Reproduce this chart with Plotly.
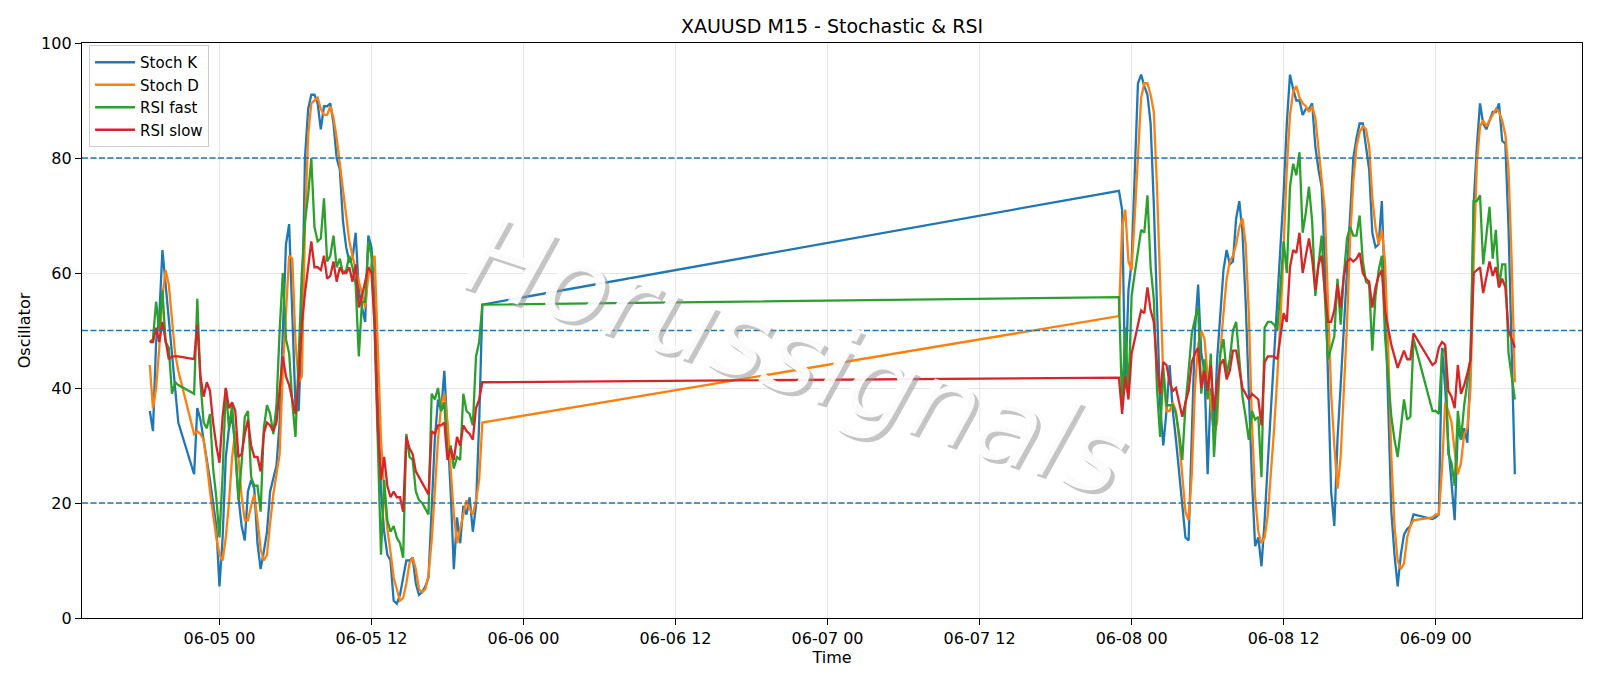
import pandas as pd
import plotly.graph_objects as go

# ---- time blocks of 15-minute bars (start, number of bars) ----
block_starts = ["2026-06-04 18:30", "2026-06-04 22:00", "2026-06-07 23:00", "2026-06-08 23:45"]
block_sizes = [10, 92, 94, 27]
x_range = ["2026-06-04 13:09", "2026-06-09 11:33"]

# ---- Stoch K ----
stoch_k_b1 = [36, 32.5, 48, 52.5, 64, 58, 53, 47, 40, 34]
stoch_k_b2 = [25, 36.5, 34.5, 31, 28, 24, 20, 16, 5.5, 14, 28, 33,
              35, 30, 21, 16, 13.5, 22, 24, 22.5, 13, 8.5, 11.5, 15, 22, 24.5, 26.5, 34, 50, 65, 68.5, 54, 37, 36, 50, 80, 88.5, 91,
              91, 89.5, 85, 89, 89, 89.5, 86, 80, 78, 69, 64.5, 62, 62.5, 67, 57, 54, 51.5, 66.5, 64.5, 55, 37, 22, 15, 11, 10, 3,
              2.5, 4, 7, 10, 10, 10.5, 6, 4, 4.5, 5.5, 7, 19, 31, 38, 36, 43, 33, 22, 8.5, 17.5, 13, 19.5, 18, 21, 15, 19.5, 34, 54.5]
stoch_k_b3 = [74.3, 71, 40, 57, 62, 78, 93, 94.5, 92.5, 91, 86, 72, 53, 37, 30, 36, 44,
              36, 31, 25, 20, 14, 13.5, 33.5, 50, 58, 46, 43, 25, 40, 32, 45, 52, 60.5, 64, 61.5, 62, 69.5, 72.5, 67, 55,
              38, 24, 12.5, 14, 9, 17, 27, 36, 45, 54, 63, 74, 86, 94.5, 92, 90, 90, 87.5, 88.5, 88.5, 89.5, 82, 78, 75, 62, 41,
              22, 16, 31, 40.5, 50, 59.5, 69, 80, 83.5, 86, 86, 82, 78, 67, 64.5, 65, 72.5, 56, 36, 18.5, 11, 5.5, 11, 14.5, 15.5, 16, 18]
stoch_k_b4 = [17.2, 17.5, 18, 47, 40, 30, 24, 17, 33, 31, 33, 30.5, 44, 72, 82, 89.5, 86, 85, 86.5, 88, 88, 89.5, 83, 82.5, 68, 45, 25]

# ---- Stoch D ----
stoch_d_b1 = [44, 36.5, 40, 47, 56, 60.5, 58, 52, 46, 43]
stoch_d_b2 = [32, 32.5, 32, 31, 27, 22, 17.5, 14, 11, 10, 14, 20,
              28, 32.5, 28, 21, 17, 17, 19.5, 21.5, 17, 12, 10, 11, 16.5, 21.5, 25, 28.5, 43, 54, 63, 62.5, 48, 41, 42, 68, 84, 89.5,
              90, 90.5, 88.5, 87.5, 87.5, 89, 87, 83.5, 79, 74.5, 69.5, 65.5, 63, 60.5, 58.5, 56.5, 54, 59.5, 61.5, 63, 48, 31, 22, 15.5, 11.5, 7,
              5, 3, 3.5, 6, 9.5, 10.5, 8.5, 5, 4.5, 5, 7.5, 13.5, 22, 31, 37, 39, 34, 25, 18, 13, 15.5, 18, 20.5, 19, 18, 20.5, 24, 34]
stoch_d_b3 = [52.5, 68, 71, 62, 60.5, 70, 81, 90.5, 93, 93, 91, 88, 75, 57, 42, 36, 36,
              37.5, 36, 31, 25, 18.5, 17, 25, 40, 47.5, 50, 48.5, 42, 37, 32, 34, 46, 53, 59, 62, 63, 65, 68, 69.5, 65,
              53, 34, 21, 15, 13, 14, 18, 25, 33, 42, 52, 64.5, 78, 87.5, 91.5, 92.5, 90.5, 89.5, 89, 88, 89, 87, 82, 77, 71, 55,
              39, 30, 22.5, 28, 38.5, 51, 66, 76, 82, 84.5, 85.5, 85, 82, 73, 68, 65, 67.5, 62, 47, 28, 16, 10, 8.5, 9.5, 14, 16, 17]
stoch_d_b4 = [17.5, 18, 18, 26, 37.5, 36, 34, 29, 25, 27, 32, 33, 40, 62, 79, 85.5, 86.5, 85.5, 86.5, 87.5, 88.5, 88, 86.5, 84, 78, 62, 41]

# ---- RSI fast ----
rsi_fast_b1 = [48, 48.5, 55, 50, 57, 48, 47, 39, 41, 40.5]
rsi_fast_b2 = [39, 55.5, 41, 34, 33, 35.5, 26, 21, 14, 25, 40, 33,
               37, 29, 20.5, 27, 35, 36, 24.5, 23, 23, 18.5, 33, 37, 35.5, 32, 37, 50, 60, 48.5, 46, 37.5, 31.5, 45, 60, 69, 73.5, 80,
               68, 65.5, 66, 73, 62, 63, 66.5, 61, 62.5, 60, 60.5, 63, 61, 58, 45.5, 55, 55, 65.5, 63, 50, 31, 11, 24, 17, 15, 16,
               14, 13, 10.5, 32, 28, 27.5, 22, 20.5, 20, 19, 18, 39, 38, 40, 36, 37.5, 28, 30, 26, 28, 27.5, 39, 36, 35.5, 33.5, 45.5, 48, 54.5]
rsi_fast_b3 = [55.8, 37, 50.5, 39, 56, 60, 63.5, 67.5, 67, 73.5, 61, 55.5, 40, 31.5, 43.5, 37, 37,
               37, 35.5, 32, 27.5, 37, 43, 49.5, 52, 54, 39, 45, 38, 46, 28, 38, 46, 48.5, 42.5, 45, 50, 51.5, 45, 38.5, 35,
               31, 36, 34.5, 35, 24.5, 50.5, 51.5, 51.5, 51, 50, 58, 65.5, 60, 75, 79, 77, 81, 67, 70.5, 75, 69, 56, 61.5, 66.5, 56, 45,
               47, 49, 59, 51, 59.5, 66, 68, 66.5, 66.5, 70, 62, 58.5, 58, 46.5, 56, 60.5, 63, 49, 42, 35, 31, 28, 33, 38, 34.5, 35, 48.5]
rsi_fast_b4 = [36, 36, 35.5, 46, 47, 28.5, 27, 23, 36, 31, 37, 41, 45, 72.5, 72.5, 73.5, 61.5, 66.5, 71.5, 62.5, 67.5, 57.5, 61.5, 61.5, 46, 42, 38]

# ---- RSI slow ----
rsi_slow_b1 = [48, 48, 50.5, 48, 51.5, 48, 45, 45.5, 45.5, 45.5]
rsi_slow_b2 = [45, 51, 42, 38.5, 41, 39.5, 34, 30, 27, 35, 40, 36.5,
               37.5, 36, 28, 28.5, 32, 34.5, 30, 28, 28, 25.5, 32, 34, 33.5, 32.5, 34, 40, 45.5, 42, 40.5, 38, 35.5, 41.5, 51, 56.5, 61, 65.5,
               61, 61, 60.5, 63, 59, 59.5, 62, 58.5, 61, 60, 60, 61, 58.5, 61.5, 54, 56, 58.5, 61, 60, 51, 33, 24, 28, 23, 21, 22,
               21, 21, 18.5, 31.5, 29.5, 28.5, 25.5, 24.5, 23.5, 22.5, 21.5, 32.5, 32, 33.5, 33.5, 34, 27.5, 29.5, 27.5, 31.5, 30, 33.5, 32.5, 32, 31, 36.5, 38, 41]
rsi_slow_b3 = [41.8, 35.5, 42, 38, 46, 48.5, 51, 53.5, 53, 57.5, 53.5, 51.5, 44, 39, 44.5, 44, 41,
               39.5, 40, 37.5, 35, 37.5, 39.5, 44.5, 46, 47, 40, 43, 39.5, 44, 36, 40.5, 44, 45, 41.5, 43, 46.5, 46.5, 43, 40, 39,
               38, 39, 38.5, 38, 33.5, 44.5, 45.5, 45.5, 45.5, 45, 49, 53, 51.5, 61, 64, 63.5, 67, 60, 63, 66, 62.5, 57, 61.5, 63, 57, 51.5,
               51.5, 53.5, 58, 54, 59.5, 62, 62.5, 62, 62.5, 63.5, 60, 59, 58.5, 54, 57.5, 59.5, 60.5, 53.5, 50.5, 47.5, 45.5, 43.5, 45, 46.5, 45, 45, 49.5]
rsi_slow_b4 = [44, 44.5, 47, 48, 47.5, 39.5, 38.5, 36.5, 44, 39, 40.5, 42.5, 45, 60, 60.5, 61, 56.5, 59, 62, 59.5, 61, 57.5, 59, 57.5, 50, 48.5, 47]

levels = [80, 50, 20]
series_names = ["Stoch K", "Stoch D", "RSI fast", "RSI slow"]
series_colors = ["#1f77b4", "#ff7f0e", "#2ca02c", "#d62728"]

times = []
for s, n in zip(block_starts, block_sizes):
    times += list(pd.date_range(s, periods=n, freq="15min"))

series_values = [
    stoch_k_b1 + stoch_k_b2 + stoch_k_b3 + stoch_k_b4,
    stoch_d_b1 + stoch_d_b2 + stoch_d_b3 + stoch_d_b4,
    rsi_fast_b1 + rsi_fast_b2 + rsi_fast_b3 + rsi_fast_b4,
    rsi_slow_b1 + rsi_slow_b2 + rsi_slow_b3 + rsi_slow_b4,
]

fig = go.Figure()
for name, col, vals in zip(series_names, series_colors, series_values):
    fig.add_trace(go.Scatter(x=times[:len(vals)], y=vals, mode="lines", name=name,
                             line=dict(color=col, width=2.3)))

for lv in levels:
    fig.add_shape(type="line", xref="paper", x0=0, x1=1, yref="y", y0=lv, y1=lv,
                  line=dict(color="#1f77b4", width=1.6, dash="6px,2.5px"), layer="above")

# watermark
for dx, dy, col in [(4, -4, "rgba(150,150,150,0.55)"), (0, 0, "rgba(255,255,255,0.92)")]:
    fig.add_annotation(text="Horussignals", xref="paper", yref="paper", x=0.476, y=0.455,
                       xshift=dx, yshift=dy, showarrow=False, textangle=18,
                       font=dict(family="DejaVu Sans", size=107, color=col, style="italic"))

fig.update_layout(
    width=1600, height=686, autosize=False,
    margin=dict(l=82, r=18, t=43, b=68),
    paper_bgcolor="white", plot_bgcolor="white",
    font=dict(family="DejaVu Sans", size=16, color="black"),
    title=dict(text="XAUUSD M15 - Stochastic & RSI", x=0.5, xref="paper", xanchor="center",
               y=1 - 26.5 / 686, yref="container", yanchor="middle", font=dict(size=19)),
    legend=dict(x=0.0047, y=0.9965, xanchor="left", yanchor="top", bgcolor="rgba(255,255,255,0.85)",
                bordercolor="#cccccc", borderwidth=1, font=dict(size=15), tracegroupgap=0,
                itemwidth=40),
    showlegend=True,
)
fig.update_xaxes(range=x_range, type="date", tick0="2026-06-05 00:00", dtick=12 * 3600 * 1000,
                 tickformat="%m-%d %H", showgrid=True, gridcolor="#e6e6e6", gridwidth=1.2,
                 showline=True, mirror=True, linecolor="black", linewidth=1.3,
                 ticks="outside", ticklen=6, tickcolor="black", zeroline=False,
                 title=dict(text="Time", standoff=3, font=dict(size=16)), tickfont=dict(size=16))
fig.update_yaxes(range=[0, 100], dtick=20, showgrid=True, gridcolor="#e6e6e6", gridwidth=1.2,
                 showline=True, mirror=True, linecolor="black", linewidth=1.3,
                 ticks="outside", ticklen=6, tickcolor="black", zeroline=False,
                 title=dict(text="Oscillator", standoff=6, font=dict(size=16)), tickfont=dict(size=16))

fig.write_html("out.html", config={"displayModeBar": False},
               post_script="document.body.style.margin='0px';document.body.style.overflow='hidden';")
